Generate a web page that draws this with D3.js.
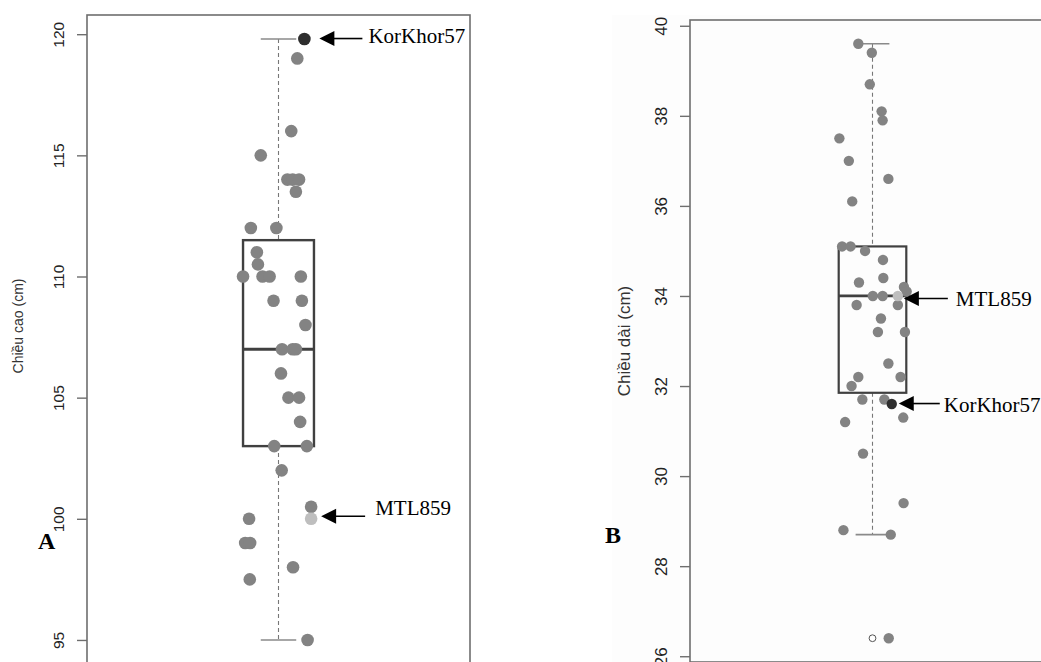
<!DOCTYPE html>
<html><head><meta charset="utf-8">
<script src="https://cdn.jsdelivr.net/npm/d3@7"></script>
<style>body{margin:0;background:#fff}svg{display:block}</style>
</head><body>
<svg id="c" width="1041" height="662"></svg>
<script>
// ---------- Panel A: Chiều cao (cm) ----------
const heightValues = [119, 116, 115, 114, 114, 114, 113.5, 112, 112, 111, 110.5, 110, 110, 110, 110,
  109, 109, 108, 107, 107, 107, 106, 105, 105, 104, 103, 103, 102, 100.5, 100, 99, 99, 98, 97.5, 95];
const heightJitter = [0.053, 0.036, -0.050, 0.025, 0.040, 0.058, 0.049, -0.078, -0.006, -0.061, -0.058, -0.100, -0.045, -0.025, 0.063,
  -0.014, 0.066, 0.076, 0.010, 0.040, 0.049, 0.007, 0.028, 0.058, 0.061, -0.012, 0.080, 0.009, 0.092, -0.083, -0.094, -0.080, 0.041, -0.081, 0.082];
const heightStats = [95, 103, 107, 111.5, 119.8];   // lower whisker, Q1, median, Q3, upper whisker
const heightTicks = [95, 100, 105, 110, 115, 120];
const heightMarkNames = ["KorKhor57", "MTL859"];
const heightMarkValues = [119.8, 100];
const heightMarkJitter = [0.073, 0.092];
const heightOutliers = [];

// ---------- Panel B: Chiều dài (cm) ----------
const lengthValues = [39.6, 39.4, 38.7, 38.1, 37.9, 37.5, 37.0, 36.6, 36.1, 35.1, 35.1, 35.0, 34.8, 34.4, 34.3, 34.2, 34.1, 34.0, 34.0,
  33.8, 33.8, 33.5, 33.2, 33.2, 32.5, 32.2, 32.2, 32.0, 31.7, 31.7, 31.3, 31.2, 30.5, 29.4, 28.8, 28.7, 26.4];
const lengthJitter = [-0.042, -0.002, -0.008, 0.027, 0.030, -0.098, -0.070, 0.047, -0.060, -0.090, -0.065, -0.022, 0.031, 0.032, -0.040, 0.093, 0.101, 0.001, 0.030,
  -0.047, 0.075, 0.025, 0.016, 0.096, 0.047, -0.042, 0.083, -0.062, -0.030, 0.035, 0.091, -0.081, -0.028, 0.092, -0.086, 0.054, 0.048];
const lengthStats = [28.7, 31.85, 34.0, 35.1, 39.6];
const lengthTicks = [26, 28, 30, 32, 34, 36, 38, 40];
const lengthMarkNames = ["MTL859", "KorKhor57"];
const lengthMarkValues = [34.0, 31.6];
const lengthMarkJitter = [0.075, 0.057];
const lengthOutliers = [26.4];

const svg = d3.select("#c");

// faint scanned background of panel B
svg.append("rect").attr("x", 612).attr("y", 15).attr("width", 429).attr("height", 647).attr("fill", "#fdfdfd");

function drawPanel(cfg) {
  const g = svg.append("g");
  const y = d3.scaleLinear().domain(cfg.yDomain).range([cfg.bottom, cfg.top]);
  const x = d3.scaleLinear().domain([0.46, 1.54]).range([cfg.left, cfg.right]);
  const cx = x(1);
  const [lo, q1, med, q3, hi] = cfg.stats;
  const halfBox = x(1.1) - cx, halfCap = x(1.05) - cx;

  // frame
  g.append("rect").attr("x", cfg.left).attr("y", cfg.top)
    .attr("width", cfg.right - cfg.left).attr("height", cfg.bottom - cfg.top)
    .attr("fill", "none").attr("stroke", "#6e6e6e").attr("stroke-width", 1.6);

  // y axis
  const ax = g.append("g").attr("transform", `translate(${cfg.left},0)`)
    .call(d3.axisLeft(y).tickValues(cfg.ticks).tickSize(10).tickFormat(d3.format("d")));
  ax.select(".domain").remove();
  ax.selectAll(".tick line").attr("stroke", "#6e6e6e").attr("stroke-width", 1.4);
  ax.selectAll(".tick text")
    .attr("x", 0).attr("y", 0).attr("dy", 0)
    .attr("transform", `translate(${-23},0) rotate(-90)`)
    .attr("text-anchor", "middle")
    .attr("font-family", "Liberation Sans, Arial, sans-serif")
    .attr("font-size", cfg.tickFont).attr("fill", "#222");

  // y label
  g.append("text").attr("transform", `translate(${cfg.labelX},${cfg.labelY}) rotate(-90)`)
    .attr("text-anchor", "middle").attr("font-family", "Liberation Sans, Arial, sans-serif")
    .attr("font-size", cfg.labelFont).attr("fill", "#333").text(cfg.label);

  // whiskers
  g.append("line").attr("x1", cx).attr("x2", cx).attr("y1", y(hi)).attr("y2", y(q3))
    .attr("stroke", "#777").attr("stroke-width", 1.1).attr("stroke-dasharray", "4,3");
  g.append("line").attr("x1", cx).attr("x2", cx).attr("y1", y(q1)).attr("y2", y(lo))
    .attr("stroke", "#777").attr("stroke-width", 1.1).attr("stroke-dasharray", "4,3");
  [lo, hi].forEach(v => g.append("line").attr("x1", cx - halfCap).attr("x2", cx + halfCap)
    .attr("y1", y(v)).attr("y2", y(v)).attr("stroke", "#8a8a8a").attr("stroke-width", 1.6));

  // box
  g.append("rect").attr("x", cx - halfBox).attr("y", y(q3)).attr("width", 2 * halfBox)
    .attr("height", y(q1) - y(q3)).attr("fill", "none").attr("stroke", "#404040").attr("stroke-width", cfg.boxStroke);
  g.append("line").attr("x1", cx - halfBox).attr("x2", cx + halfBox).attr("y1", y(med)).attr("y2", y(med))
    .attr("stroke", "#404040").attr("stroke-width", cfg.boxStroke + 0.6);

  // outliers (open circles)
  g.selectAll(".out").data(cfg.outliers).join("circle").attr("class", "out")
    .attr("cx", cx).attr("cy", d => y(d)).attr("r", 3.4)
    .attr("fill", "#fff").attr("stroke", "#555").attr("stroke-width", 1);

  // jittered points
  g.selectAll(".pt").data(cfg.values).join("circle").attr("class", "pt")
    .attr("cx", (d, i) => x(1 + cfg.jitter[i])).attr("cy", d => y(d)).attr("r", cfg.r)
    .attr("fill", "#838383");

  // highlighted points + annotations
  cfg.markNames.forEach((name, i) => {
    const px = x(1 + cfg.markJitter[i]), py = y(cfg.markValues[i]);
    g.append("circle").attr("cx", px).attr("cy", py).attr("r", cfg.r)
      .attr("fill", name === "KorKhor57" ? "#2e2e2e" : "#bebebe");
    const [tipGap, lineEnd, textGap, dy, textDy] = cfg.markLayout[i];
    const ay = py + dy, tip = px + tipGap;
    g.append("line").attr("x1", tip + 12).attr("x2", px + lineEnd).attr("y1", ay).attr("y2", ay)
      .attr("stroke", "#000").attr("stroke-width", 1.6);
    g.append("path").attr("d", `M${tip},${ay} L${tip + 15},${ay - 7.5} L${tip + 15},${ay + 7.5} Z`).attr("fill", "#000");
    g.append("text").attr("x", px + textGap).attr("y", ay + textDy)
      .attr("font-family", "Liberation Serif, Times New Roman, serif").attr("font-size", 21)
      .attr("fill", "#000").text(name);
  });

  svg.append("text").attr("x", cfg.letterX).attr("y", cfg.letterY)
    .attr("font-family", "Liberation Serif, Times New Roman, serif").attr("font-weight", "bold")
    .attr("font-size", 24).attr("fill", "#000").text(cfg.letter);
}

drawPanel({
  left: 87, right: 470, top: 15, bottom: 664, yDomain: [94.008, 120.792],
  stats: heightStats, ticks: heightTicks, values: heightValues, jitter: heightJitter,
  markNames: heightMarkNames, markValues: heightMarkValues, markJitter: heightMarkJitter,
  markLayout: [[15, 58, 64, -0.5, 4], [10, 54, 64, -2.5, -1]],
  outliers: heightOutliers, r: 6.3, boxStroke: 2.4, tickFont: 15.5,
  label: "Chiều cao (cm)", labelX: 23, labelY: 326, labelFont: 14,
  letter: "A", letterX: 38, letterY: 549
});

drawPanel({
  left: 690, right: 1055, top: 20, bottom: 662, yDomain: [25.872, 40.128],
  stats: lengthStats, ticks: lengthTicks, values: lengthValues, jitter: lengthJitter,
  markNames: lengthMarkNames, markValues: lengthMarkValues, markJitter: lengthMarkJitter,
  markLayout: [[6, 50, 58, 2.5, 8], [7, 48, 52, -0.5, 8]],
  outliers: lengthOutliers, r: 5.2, boxStroke: 2.2, tickFont: 17,
  label: "Chiều dài (cm)", labelX: 630, labelY: 341, labelFont: 17,
  letter: "B", letterX: 605, letterY: 543
});
</script>
</body></html>
